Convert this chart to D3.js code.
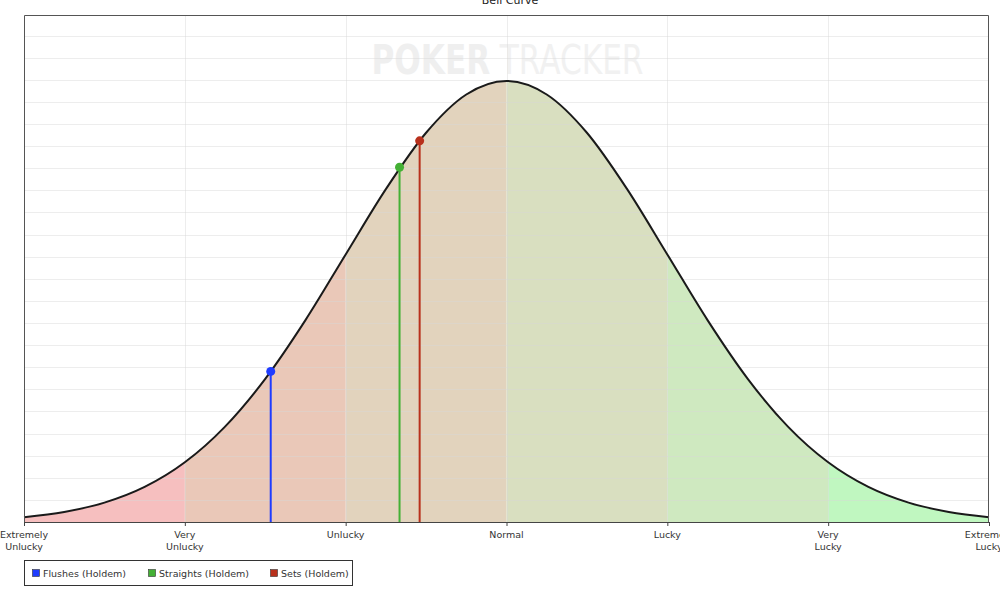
<!DOCTYPE html>
<html lang="en">
<head>
<meta charset="UTF-8">
<title>Bell Curve</title>
<script src="https://d3js.org/d3.v7.min.js"></script>
<style>
  body { margin: 0; background: #fff; }
  svg { display: block; font-family: "DejaVu Sans", sans-serif; }
  .grid line { stroke: #d8d8d8; stroke-opacity: 0.45; shape-rendering: crispEdges; }
  .tick-label { font-size: 9.5px; fill: #333; }
  .legend text { font-size: 9.5px; fill: #333; }
</style>
</head>
<body>
<div id="chart"></div>
<script>
// x positions in standard deviations, tick labels
const sigmaTicks = [-3, -2, -1, 0, 1, 2, 3];
const tickLabels = [["Extremely", "Unlucky"], ["Very", "Unlucky"], ["Unlucky"], ["Normal"], ["Lucky"], ["Very", "Lucky"], ["Extremely", "Lucky"]];

// bands between ticks
const bandColors = ["#f6bfbf", "#eac8b8", "#e2d3bd", "#d9dfc0", "#cfe9c0", "#c0f7c0"];

// curve points (height of curve at every quarter sigma)
const curveX = [-3, -2.75, -2.5, -2.25, -2, -1.75, -1.5, -1.25, -1, -0.75, -0.5, -0.25, 0,
                0.25, 0.5, 0.75, 1, 1.25, 1.5, 1.75, 2, 2.25, 2.5, 2.75, 3];
const curveY = [0.0044, 0.0091, 0.0175, 0.0317, 0.054, 0.0863, 0.1295, 0.1826, 0.242, 0.3011, 0.3521, 0.3867, 0.3989,
                0.3867, 0.3521, 0.3011, 0.242, 0.1826, 0.1295, 0.0863, 0.054, 0.0317, 0.0175, 0.0091, 0.0044];

// markers
const markerNames = ["Flushes (Holdem)", "Straights (Holdem)", "Sets (Holdem)"];
const markerSigma = [-1.466, -0.665, -0.54];
const markerHeight = [0.1362, 0.3209, 0.3448];
const markerColors = ["#1f3cff", "#44b035", "#b8301c"];

const W = 1000, H = 595;
const margin = {top: 15, right: 11, bottom: 73, left: 24};
const width = W - margin.left - margin.right;
const height = H - margin.top - margin.bottom;

const svg = d3.select("#chart").append("svg")
    .attr("width", W).attr("height", H);

// title (mostly cut off at the top)
svg.append("text")
    .attr("x", 510).attr("y", 4)
    .attr("text-anchor", "middle")
    .style("font-size", "11px").style("fill", "#222")
    .text("Bell Curve");

const g = svg.append("g").attr("transform", `translate(${margin.left},${margin.top})`);

const x = d3.scaleLinear().domain([-3, 3]).range([0, width]);
const y = d3.scaleLinear().domain([0, 0.4586]).range([height, 0]);

// watermark, squeezed horizontally
const wm = g.append("text")
    .attr("transform", `translate(${x(0) + 1},59) scale(0.78,1)`)
    .attr("text-anchor", "middle")
    .style("font-size", "40px");
wm.append("tspan").style("font-weight", "bold").style("fill", "#efefef").text("POKER");
wm.append("tspan").attr("dx", 12).style("fill", "#f1f1f1").text("TRACKER");

const pts = curveX.map((d, i) => ({s: d, v: curveY[i]}));

const area = d3.area()
    .x(d => x(d.s)).y0(height).y1(d => y(d.v))
    .curve(d3.curveMonotoneX);
const line = d3.line()
    .x(d => x(d.s)).y(d => y(d.v))
    .curve(d3.curveMonotoneX);

// coloured bands under the curve
bandColors.forEach((c, i) => {
  const id = "band" + i;
  g.append("clipPath").attr("id", id)
    .append("rect")
    .attr("x", x(sigmaTicks[i])).attr("y", 0)
    .attr("width", x(sigmaTicks[i + 1]) - x(sigmaTicks[i]))
    .attr("height", height);
  g.append("path")
    .datum(pts)
    .attr("clip-path", `url(#${id})`)
    .attr("fill", c)
    .attr("d", area);
});

// grid
const grid = g.append("g").attr("class", "grid");
grid.selectAll(".h")
    .data(d3.range(0.02, 0.46, 0.02))
    .join("line")
    .attr("x1", 0).attr("x2", width)
    .attr("y1", d => Math.round(y(d)) + 0.5).attr("y2", d => Math.round(y(d)) + 0.5);
grid.selectAll(".v")
    .data(sigmaTicks.slice(1, -1))
    .join("line")
    .attr("y1", 0).attr("y2", height)
    .attr("x1", d => Math.round(x(d)) + 0.5).attr("x2", d => Math.round(x(d)) + 0.5);

// curve
g.append("path")
    .datum(pts)
    .attr("fill", "none")
    .attr("stroke", "#1a1a1a")
    .attr("stroke-width", 2)
    .attr("d", line);

// markers
markerSigma.forEach((s, i) => {
  g.append("line")
    .attr("x1", x(s)).attr("x2", x(s))
    .attr("y1", height).attr("y2", y(markerHeight[i]))
    .attr("stroke", markerColors[i]).attr("stroke-width", 2);
  g.append("circle")
    .attr("cx", x(s)).attr("cy", y(markerHeight[i]))
    .attr("r", 4.5)
    .attr("fill", markerColors[i]);
});

// frame
g.append("path")
    .attr("d", `M0.5,${height}V0.5H${width - 0.5}V${height}`)
    .attr("fill", "none").attr("stroke", "#555").attr("stroke-width", 1);

// x axis
const xAxis = g.append("g").attr("transform", `translate(0,${height})`)
    .call(d3.axisBottom(x).tickValues(sigmaTicks).tickSize(4).tickFormat(""));
xAxis.select(".domain").attr("stroke", "#444");
xAxis.selectAll(".tick line").attr("stroke", "#444");

sigmaTicks.forEach((s, i) => {
  const t = g.append("text")
    .attr("class", "tick-label")
    .attr("text-anchor", "middle")
    .attr("x", x(s)).attr("y", height + 16);
  tickLabels[i].forEach((l, j) => {
    t.append("tspan").attr("x", x(s)).attr("dy", j === 0 ? 0 : 12).text(l);
  });
});

// legend
const legend = svg.append("g").attr("class", "legend");
legend.append("rect")
    .attr("x", 24.5).attr("y", 560.5).attr("width", 328).attr("height", 25)
    .attr("fill", "#fff").attr("stroke", "#333");
const legendX = [32, 148, 270];
markerNames.forEach((n, i) => {
  legend.append("rect")
    .attr("x", legendX[i] + 0.5).attr("y", 569.5).attr("width", 7).attr("height", 7)
    .attr("fill", markerColors[i]).attr("stroke", "#333").attr("stroke-width", 0.6);
  legend.append("text")
    .attr("x", legendX[i] + 11).attr("y", 577)
    .text(n);
});
</script>
</body>
</html>
